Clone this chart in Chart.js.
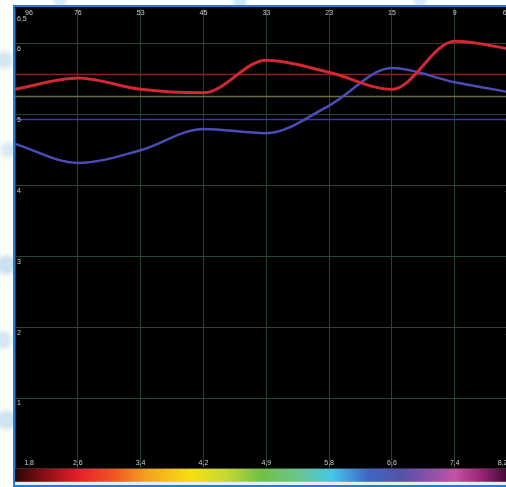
<!DOCTYPE html>
<html>
<head>
<meta charset="utf-8">
<script src="https://cdn.jsdelivr.net/npm/chart.js@4/dist/chart.umd.min.js"></script>
<style>
  html, body { margin: 0; padding: 0; }
  body {
    width: 506px; height: 487px; overflow: hidden; position: relative;
    background:
      radial-gradient(circle at 4px 60px, #d3e5f5 0, #d3e5f5 5px, transparent 12px),
      radial-gradient(circle at 8px 150px, #d9e9f6 0, #d9e9f6 4px, transparent 11px),
      radial-gradient(circle at 6px 265px, #cce0f3 0, #cce0f3 6px, transparent 13px),
      radial-gradient(circle at 3px 340px, #d6e7f5 0, #d6e7f5 5px, transparent 12px),
      radial-gradient(circle at 6px 420px, #d0e3f4 0, #d0e3f4 6px, transparent 13px),
      radial-gradient(circle at 60px 0px, #dbeaf6 0, #dbeaf6 4px, transparent 9px),
      radial-gradient(circle at 240px 2px, #d5e6f5 0, #d5e6f5 4px, transparent 9px),
      radial-gradient(circle at 420px 0px, #dbeaf6 0, #dbeaf6 4px, transparent 9px),
      #ffffff;
  }
  #frame {
    position: absolute; left: 13px; top: 5px; width: 540px; height: 478px;
    border-left: 2px solid #1c7fd4; border-top: 2px solid #1c7fd4; border-bottom: 2px solid #1c7fd4;
    background: #e6edf1;
  }
  #wrap { position: absolute; left: 0; top: 0; width: 540px; height: 487px; }
</style>
</head>
<body>
<div id="frame"></div>
<div id="wrap"><canvas id="myChart"></canvas></div>
<script>
// tick labels
var bottomLabels = ['1,8', '2,6', '3,4', '4,2', '4,9', '5,8', '6,6', '7,4', '8,2'];
var topLabels = ['96', '76', '53', '45', '33', '23', '15', '9', '6'];
var yTickValues = [6.5, 6, 5, 4, 3, 2, 1];
var yTickLabels = ['6,5', '6', '5', '4', '3', '2', '1'];

// series values
var redValues = [5.36, 5.52, 5.36, 5.31, 5.77, 5.60, 5.36, 6.04, 5.91];
var blueValues = [4.59, 4.32, 4.50, 4.80, 4.74, 5.13, 5.66, 5.46, 5.30];

// horizontal reference levels
var refValues = [5.58, 5.27, 4.94];
var refColors = ['#8c1c26', '#6e6a44', '#3636a4'];

var decor = {
    id: 'decor',
    beforeDraw: function (chart) {
        var ctx = chart.ctx, a = chart.chartArea;
        ctx.save();
        ctx.fillStyle = '#000000';
        ctx.fillRect(a.left, 7, chart.width - a.left, a.bottom - 7);
        // spectrum bar under the plot
        var x0 = chart.scales.x.getPixelForValue(0);
        var x8 = chart.scales.x.getPixelForValue(8);
        var w = x8 - x0;
        var g = ctx.createLinearGradient(x0, 0, x8, 0);
        var stops = [
            [0, '#2a0608'], [0.05, '#7a0e14'], [0.125, '#e41f2a'], [0.2, '#ee5a22'],
            [0.26, '#f3a024'], [0.35, '#f6e012'], [0.42, '#c4d834'], [0.49, '#72c046'],
            [0.56, '#6cc48a'], [0.63, '#46c6ea'], [0.7, '#3e68c4'], [0.77, '#5452a6'],
            [0.84, '#9a50aa'], [0.875, '#c452a4'], [0.93, '#962474'], [0.98, '#3c0a30'], [1, '#2a0620']
        ];
        stops.forEach(function (s) { g.addColorStop(s[0], s[1]); });
        ctx.fillStyle = g;
        ctx.fillRect(a.left, a.bottom, w + 30, 13);
        ctx.restore();
    },
    beforeDatasetsDraw: function (chart) {
        var ctx = chart.ctx, a = chart.chartArea, y = chart.scales.y;
        ctx.save();
        ctx.lineWidth = 1.5;
        refValues.forEach(function (v, i) {
            var py = Math.round(y.getPixelForValue(v)) + 0.5;
            ctx.strokeStyle = refColors[i];
            ctx.beginPath();
            ctx.moveTo(a.left, py);
            ctx.lineTo(chart.width, py);
            ctx.stroke();
        });
        ctx.restore();
    },
    afterDraw: function (chart) {
        var ctx = chart.ctx, a = chart.chartArea, x = chart.scales.x, y = chart.scales.y;
        ctx.save();
        ctx.font = '7px "Liberation Sans", "DejaVu Sans", sans-serif';
        ctx.fillStyle = '#cfcfcf';
        ctx.textBaseline = 'middle';
        var n = bottomLabels.length;
        for (var i = 0; i < n; i++) {
            var px = x.getPixelForValue(i);
            ctx.textAlign = 'center';
            if (i === 0) { px += 14; }
            if (i === n - 1) {
                ctx.fillText(topLabels[i], px - 13, 13.5);
                ctx.fillText(bottomLabels[i], px - 15, 463.5);
                continue;
            }
            ctx.fillText(topLabels[i], px, 13.5);
            ctx.fillText(bottomLabels[i], px, 463.5);
        }
        ctx.textAlign = 'left';
        ctx.textBaseline = 'top';
        yTickValues.forEach(function (v, i) {
            var py = Math.max(y.getPixelForValue(v) + 2, a.top + 7);
            ctx.fillText(yTickLabels[i], a.left + 2, py);
            ctx.fillText(yTickLabels[i], a.right - 12, py);
        });
        ctx.restore();
    }
};

var ctx = document.getElementById('myChart').getContext('2d');
var myChart = new Chart(ctx, {
    type: 'line',
    data: {
        labels: bottomLabels,
        datasets: [
            {
                label: 'rouge',
                data: redValues,
                borderColor: '#d42733',
                borderWidth: 3,
                pointRadius: 0,
                cubicInterpolationMode: 'monotone'
            },
            {
                label: 'bleu',
                data: blueValues,
                borderColor: '#4a4db8',
                borderWidth: 2.5,
                pointRadius: 0,
                cubicInterpolationMode: 'monotone'
            }
        ]
    },
    options: {
        responsive: true,
        maintainAspectRatio: false,
        animation: false,
        layout: { padding: { left: 15, right: 22.4, top: 8.6, bottom: 18.2 } },
        plugins: { legend: { display: false }, tooltip: { enabled: false } },
        scales: {
            x: {
                offset: false,
                ticks: { display: false },
                border: { display: false },
                grid: {
                    drawTicks: false,
                    color: '#26442f',
                    lineWidth: 1
                }
            },
            y: {
                min: 0,
                max: 6.5,
                ticks: { display: false, stepSize: 1 },
                border: { display: false },
                grid: {
                    drawTicks: false,
                    lineWidth: 1,
                    color: function (c) {
                        var v = c.tick ? c.tick.value : 0;
                        return (v === 0 || v === 6.5) ? 'rgba(0,0,0,0)' : '#26442f';
                    }
                }
            }
        }
    },
    plugins: [decor]
});
</script>
</body>
</html>
